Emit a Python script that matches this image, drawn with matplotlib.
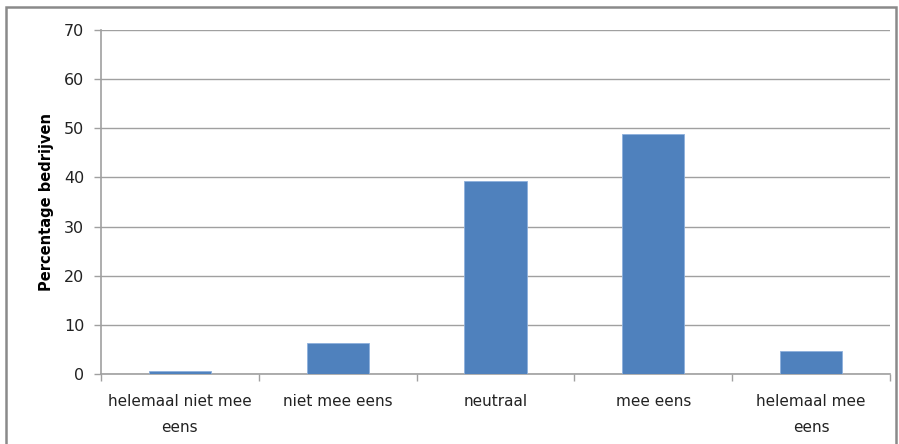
import matplotlib
matplotlib.use("Agg")
import matplotlib.pyplot as plt
from matplotlib.patches import Rectangle

categories = ["helemaal niet mee\neens", "niet mee eens", "neutraal", "mee eens", "helemaal mee\neens"]
values = [0.7, 6.3, 39.2, 48.9, 4.8]
yticks = [0, 10, 20, 30, 40, 50, 60, 70]
ylabel = "Percentage bedrijven"

W, H = 899, 444
fig = plt.figure(figsize=(W / 100, H / 100), dpi=100)
ax = fig.add_axes([101 / W, 1 - 374.3 / H, (890 - 101) / W, (374.3 - 29.7) / H])

grid_c = "#a0a0a0"
x = range(len(categories))
ax.bar(x, values, width=0.395, color="#4f81bd", edgecolor="#8db0dc", linewidth=0.6, zorder=3)
ax.set_xlim(-0.5, len(categories) - 0.5)
ax.set_ylim(0, 70)
ax.set_yticks(yticks)
ax.yaxis.grid(True, color=grid_c, linewidth=1.0, zorder=0)
ax.set_xticks([i - 0.5 for i in range(len(categories) + 1)], minor=False)
ax.set_xticklabels([""] * (len(categories) + 1))
ax.set_xticks(list(x), minor=True)
ax.set_xticklabels(categories, minor=True, fontsize=11, color="#222222", linespacing=1.92)
ax.tick_params(axis="x", which="major", length=5, color=grid_c, width=1)
ax.tick_params(axis="x", which="minor", length=0, pad=14.5)
ax.tick_params(axis="y", length=5, color=grid_c, width=1, labelsize=11.5, labelcolor="#222222", pad=7)
for s in ["top", "right"]:
    ax.spines[s].set_visible(False)
for s in ["left", "bottom"]:
    ax.spines[s].set_color(grid_c)
    ax.spines[s].set_linewidth(1.2)
ax.set_ylabel(ylabel, fontsize=10.5, fontweight="bold", labelpad=7)

fig.patches.append(Rectangle((6 / W, -0.1), (896 - 6) / W, 1.1 - 7 / H, transform=fig.transFigure,
                             fill=False, edgecolor="#8a8a8a", linewidth=1.8, zorder=10))
fig.savefig("out.png", dpi=100)
